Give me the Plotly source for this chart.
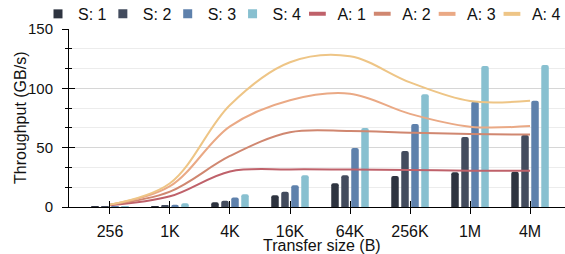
import plotly.graph_objects as go

categories = ["256", "1K", "4K", "16K", "64K", "256K", "1M", "4M"]

s_names = ["S: 1", "S: 2", "S: 3", "S: 4"]
s1 = [0.1, 0.3, 3.9, 9.8, 20.0, 26.1, 29.2, 29.8]
s2 = [0.2, 1.1, 5.3, 12.9, 26.7, 47.2, 59.0, 60.7]
s3 = [0.4, 1.9, 8.1, 18.3, 49.7, 69.9, 88.7, 89.6]
s4 = [0.5, 3.1, 10.7, 26.7, 66.6, 95.0, 118.8, 119.6]

a_names = ["A: 1", "A: 2", "A: 3", "A: 4"]
a1 = [1.5, 9.0, 30.0, 31.7, 31.5, 31.2, 30.6, 30.6]
a2 = [2.0, 13.0, 43.0, 63.0, 64.0, 62.6, 61.5, 61.0]
a3 = [2.0, 17.5, 68.0, 90.0, 95.5, 78.5, 67.7, 68.2]
a4 = [2.0, 20.0, 86.0, 122.0, 127.0, 105.0, 89.3, 89.6]

s_colors = ["#2e3440", "#434c5e", "#5e81ac", "#88c0d0"]
a_colors = ["#bf616a", "#d08770", "#eaa985", "#eec586"]

FONT = "Liberation Sans, Arial, sans-serif"
W, H = 565, 254
ML, MR, MT, MB = 69, 0, 29, 47
PW, PH = W - ML - MR, H - MT - MB

fig = go.Figure()

for name, vals, col in zip(s_names, [s1, s2, s3, s4], s_colors):
    fig.add_trace(go.Bar(x=categories, y=vals, name=name, marker_color=col,
                         marker_line_width=0, showlegend=False,
                         xaxis="x", yaxis="y"))

for name, vals, col in zip(a_names, [a1, a2, a3, a4], a_colors):
    fig.add_trace(go.Scatter(x=categories, y=vals, name=name, mode="lines",
                             line=dict(color=col, width=2, shape="spline", smoothing=1.0),
                             showlegend=False, xaxis="x2", yaxis="y2"))

# legend entries (one small legend per entry so spacing matches the reference)
legend_keys = ["legend"] + [f"legend{i}" for i in range(2, 9)]
for k, (name, col) in enumerate(zip(s_names, s_colors)):
    fig.add_trace(go.Scatter(x=[None], y=[None], name=name, mode="markers",
                             marker=dict(symbol="square", size=9, color=col),
                             legend=legend_keys[k], xaxis="x", yaxis="y"))
for k, (name, col) in enumerate(zip(a_names, a_colors)):
    fig.add_trace(go.Scatter(x=[None], y=[None], name=name, mode="markers",
                             marker=dict(symbol="line-ew", size=12,
                                         line=dict(color=col, width=4)),
                             legend=legend_keys[4 + k], xaxis="x", yaxis="y"))

legend_layout = {}
for k, key in enumerate(legend_keys):
    text_x = 68.5 + k * 64.85
    legend_layout[key] = dict(orientation="h", xref="container", yref="paper",
                              x=(text_x - 30.5) / W, xanchor="left",
                              y=1.18, yanchor="top", itemwidth=30,
                              font=dict(family=FONT, size=16),
                              bgcolor="rgba(0,0,0,0)")

xr = [-0.683, 7.583]
yr = [0, 150]

fig.update_layout(
    width=W, height=H,
    margin=dict(l=ML, r=MR, t=MT, b=MB, autoexpand=False),
    paper_bgcolor="white", plot_bgcolor="white",
    font=dict(family=FONT, size=16, color="#111111"),
    barmode="group", bargap=0.333, bargroupgap=0.25, barcornerradius=2,
    showlegend=True,
    xaxis=dict(type="category", categoryorder="array", categoryarray=categories,
               range=xr, showgrid=False, zeroline=False,
               showline=True, linecolor="black", linewidth=1,
               ticks="outside", ticklen=6, tickcolor="black", tickwidth=1,
               ticklabelstandoff=4,
               tickfont=dict(size=16)),
    yaxis=dict(range=yr, dtick=50, tick0=0, showgrid=True, gridcolor="#d6d6d6",
               gridwidth=1, zeroline=False,
               showline=True, linecolor="black", linewidth=1,
               ticks="outside", ticklen=6, tickcolor="black", tickwidth=1,
               ticklabelstandoff=6,
               tickfont=dict(size=15),
               minor=dict(dtick=50 / 3, tick0=0, showgrid=True, gridcolor="#ececec",
                          ticks="outside", ticklen=3, tickcolor="black")),
    xaxis2=dict(type="category", categoryorder="array", categoryarray=categories,
                range=xr, overlaying="x", anchor="y2", side="bottom",
                showgrid=False, zeroline=False, showline=False,
                ticks="inside", ticklen=6, tickcolor="black", tickwidth=1,
                showticklabels=False),
    yaxis2=dict(range=yr, dtick=50, tick0=0, overlaying="y", anchor="x2", side="left",
                showgrid=False, zeroline=False, showline=False,
                ticks="inside", ticklen=6, tickcolor="black", tickwidth=1,
                showticklabels=False,
                minor=dict(dtick=50 / 3, tick0=0, showgrid=False,
                           ticks="inside", ticklen=3, tickcolor="black")),
    annotations=[
        dict(text="Throughput (GB/s)", textangle=-90,
             xref="paper", yref="paper", x=-(ML - 20) / PW, y=0.5,
             xanchor="center", yanchor="middle", showarrow=False,
             font=dict(family=FONT, size=16, color="#111111")),
        dict(text="Transfer size (B)",
             xref="paper", yref="paper", x=(322 - ML) / PW, y=-(245.5 - (MT + PH)) / PH,
             xanchor="center", yanchor="middle", showarrow=False,
             font=dict(family=FONT, size=16, color="#111111")),
    ],
    **legend_layout,
)

fig.write_html("out.html", config={"displayModeBar": False},
               post_script="document.body.style.margin='0';")
